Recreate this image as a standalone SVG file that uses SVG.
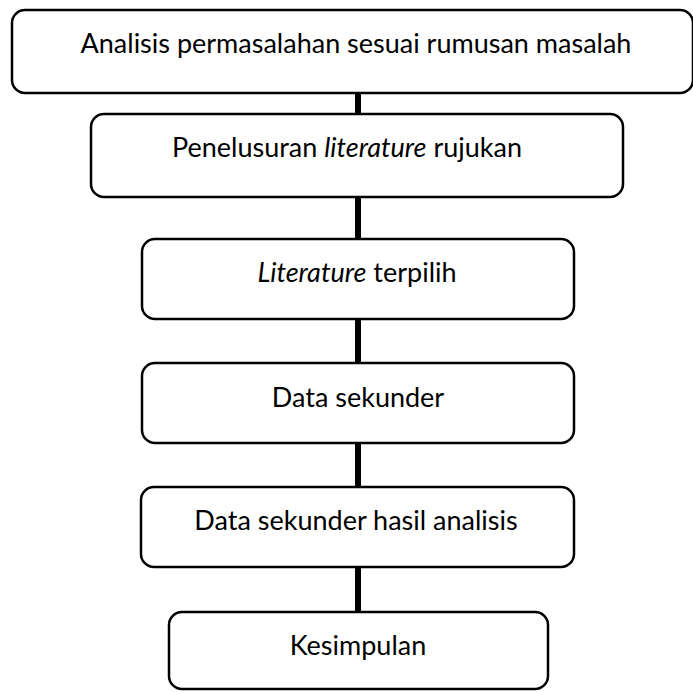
<svg xmlns="http://www.w3.org/2000/svg" width="693" height="692" viewBox="0 0 693 692">
<style>
.box{fill:#fff;stroke:#000;stroke-width:2.5}
.lbl{font-family:Lato,"Open Sans",sans-serif;font-size:27px;fill:#000;text-anchor:middle}
.it{font-style:italic}
.con{stroke:#000;stroke-width:6;fill:none}
</style>
<rect width="693" height="692" fill="#fff"/>
<g id="connectors">
<line class="con" x1="358" y1="93" x2="358" y2="114"/>
<line class="con" x1="358" y1="197" x2="358" y2="239"/>
<line class="con" x1="358" y1="319" x2="358" y2="363"/>
<line class="con" x1="358" y1="443" x2="358" y2="487"/>
<line class="con" x1="358" y1="567" x2="358" y2="612"/>
</g>
<g id="n1"><rect class="box" x="12" y="10" width="681" height="83" rx="13"/><text class="lbl" x="356" y="53">Analisis permasalahan sesuai rumusan masalah</text></g>
<g id="n2"><rect class="box" x="91" y="114" width="532" height="83" rx="13"/><text class="lbl" x="347" y="157">Penelusuran <tspan class="it">literature</tspan> rujukan</text></g>
<g id="n3"><rect class="box" x="142" y="239" width="432" height="80" rx="13"/><text class="lbl" x="357" y="282"><tspan class="it">Literature</tspan> terpilih</text></g>
<g id="n4"><rect class="box" x="142" y="363" width="432" height="80" rx="13"/><text class="lbl" x="358" y="407">Data sekunder</text></g>
<g id="n5"><rect class="box" x="141" y="487" width="433" height="80" rx="13"/><text class="lbl" x="356" y="530">Data sekunder hasil analisis</text></g>
<g id="n6"><rect class="box" x="169" y="612" width="379" height="77" rx="13"/><text class="lbl" x="358" y="655">Kesimpulan</text></g>
</svg>
